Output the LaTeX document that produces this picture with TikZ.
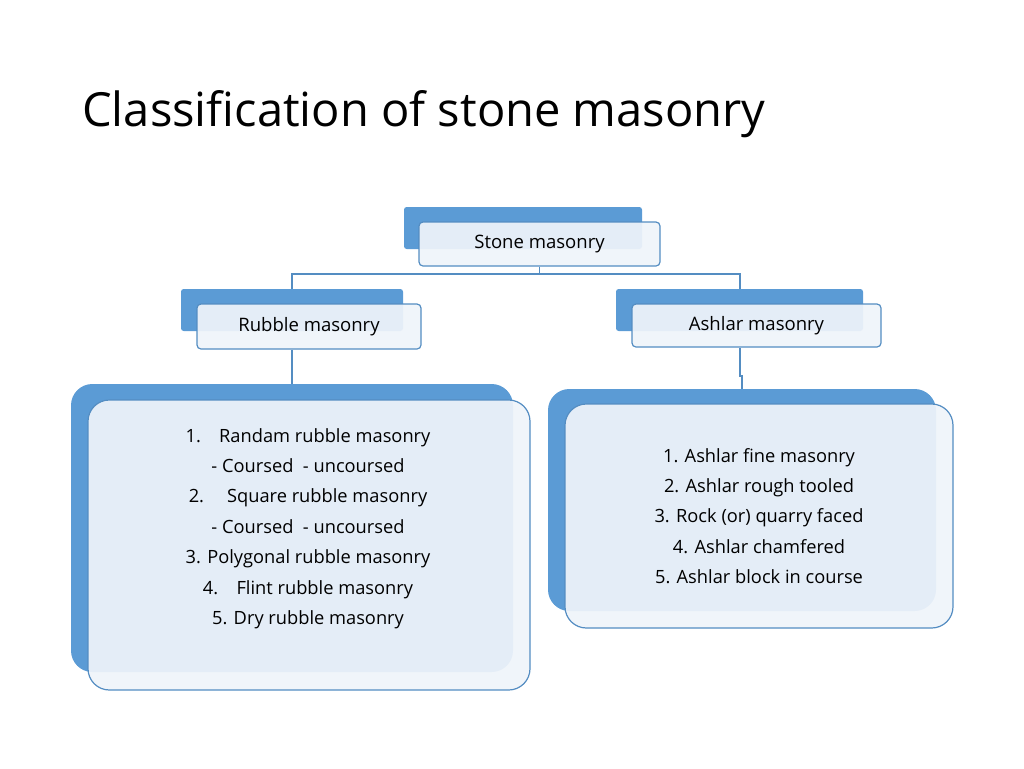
\documentclass[tikz,border=0pt]{standalone}
\usepackage{fontspec}
\setmainfont{Open Sans}
\usepackage{tikz}
\definecolor{backblue}{RGB}{91,155,213}
\definecolor{frontfill}{RGB}{239,244,250}
\definecolor{edgeblue}{RGB}{84,141,194}
\begin{document}
\begin{tikzpicture}[x=0.75pt,y=0.75pt,yscale=-1,xscale=1,
  back/.style={fill=backblue,draw=none,rounded corners=2pt},
  front/.style={fill=frontfill,fill opacity=0.93,text opacity=1,draw=edgeblue,line width=0.9pt,rounded corners=3pt,align=center,font=\fontsize{13.9}{22}\selectfont},
  listtext/.style={align=center,inner sep=0pt,font=\fontsize{13.7}{22.8}\selectfont},
  link/.style={draw=edgeblue,line width=0.9pt}]
\useasboundingbox (0,0) rectangle (1024,768);

% Title
\node (title) [anchor=west,inner sep=0pt,font=\fontsize{35.3}{42}\selectfont] at (82,114) {Classification of stone masonry};

% Level boxes (back)
\fill [back] (404,207) rectangle (642,249);
\fill [back] (181,289) rectangle (403,331);
\fill [back] (616,289) rectangle (863,331);
\fill [back,rounded corners=16pt] (71,384) rectangle (513,672);
\fill [back,rounded corners=16pt] (548,389) rectangle (936,611);

% Level boxes (front)
\node (stone) [front,minimum width=180.75pt,minimum height=33pt] at (539.5,244) {Stone masonry};
\node (rubble) [front,minimum width=168pt,minimum height=33.75pt] at (309,326.5) {Rubble masonry};
\node (ashlar) [front,minimum width=186.75pt,minimum height=32.25pt] at (756.5,325.5) {Ashlar masonry};
\node (rlist) [front,rounded corners=16pt,minimum width=331.5pt,minimum height=217.5pt] at (309,545) {};
\node (alist) [front,rounded corners=16pt,minimum width=291pt,minimum height=168pt] at (759,516) {};

% Texts
\node (rtext) [listtext] at (308,528.5) {%
1.\quad Randam rubble masonry\\
- Coursed\ \ - uncoursed\\
2.\quad\ Square rubble masonry\\
- Coursed\ \ - uncoursed\\
3. Polygonal rubble masonry\\
4.\quad Flint rubble masonry\\
5. Dry rubble masonry};
\node (atext) [listtext] at (759,516) {%
1. Ashlar fine masonry\\
2. Ashlar rough tooled\\
3. Rock (or) quarry faced\\
4. Ashlar chamfered\\
5. Ashlar block in course};

% Connectors
\coordinate (split) at (539.5,274);
\coordinate (rtop) at (292,289);
\coordinate (atop) at (740,289);
\coordinate (jog) at (740,376);
\draw [link] (stone.south) -- (split);
\draw [link] (rtop) |- (split) -| (atop);
\draw [link] (rubble.south -| rtop) -- (292,384);
\draw [link] (ashlar.south -| atop) -- (jog) -- (742,376) -- (742,389);
\end{tikzpicture}
\end{document}
